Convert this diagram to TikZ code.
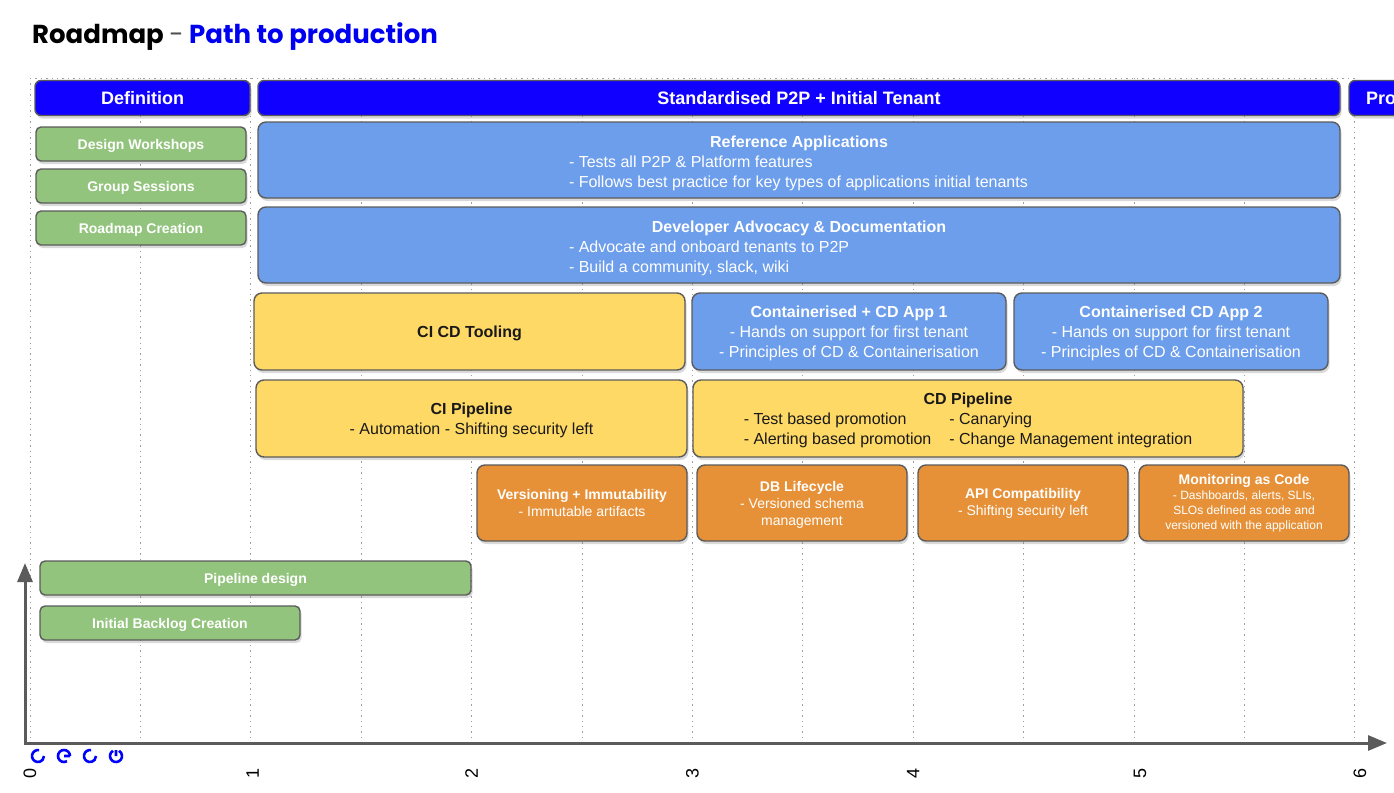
\documentclass[tikz,border=0pt]{standalone}
\usepackage{fontspec}
\setmainfont{Liberation Sans}
\newfontfamily\titlefont{Poppins}
\usetikzlibrary{arrows.meta,shadows}
\definecolor{hdrblue}{HTML}{1000FF}
\definecolor{refblue}{HTML}{6D9EEB}
\definecolor{taskgreen}{HTML}{93C47D}
\definecolor{toolyellow}{HTML}{FFD966}
\definecolor{practorange}{HTML}{E69138}
\definecolor{edgegray}{HTML}{5B5B5B}
\definecolor{titleblue}{HTML}{0000F0}

\begin{document}
\begin{tikzpicture}[x=1pt,y=-1pt,
  bar/.style={rectangle, rounded corners=8pt, draw=edgegray, line width=1.4pt, inner sep=0pt, align=center,
    drop shadow={shadow xshift=1.5pt, shadow yshift=-3pt, opacity=0.3}},
  hdr/.style={bar, fill=hdrblue, text=white, rounded corners=6pt, minimum height=35pt, font=\fontsize{18}{22}\selectfont\bfseries},
  refbox/.style={bar, fill=refblue, text=white, font=\fontsize{16}{20}\selectfont},
  toolbox/.style={bar, fill=toolyellow, text=black!90, font=\fontsize{16}{20}\selectfont},
  practbox/.style={bar, fill=practorange, text=white, minimum width=210pt, minimum height=76pt, font=\fontsize{14}{17}\selectfont},
  taskbox/.style={bar, fill=taskgreen, text=white, rounded corners=5pt, minimum height=34pt, text depth=0pt, font=\fontsize{14}{17}\selectfont\bfseries},
  gridline/.style={gray!75, line width=1pt, dash pattern=on 1.4pt off 4pt},
  timeaxis/.style={edgegray, line width=3pt, line join=miter},
  spin/.style={blue, line width=2.6pt},
  ticklbl/.style={rotate=90, inner sep=0pt, font=\fontsize{18}{18}\selectfont},
]
\useasboundingbox (0,0) rectangle (1394,792);
\clip (0,0) rectangle (1394,792);

% title
\node[anchor=base west, inner sep=0pt, font=\titlefont\fontsize{26}{30}\selectfont\bfseries] (title) at (32,44)
  {Roadmap \textcolor{black!70}{\mdseries -} \textcolor{titleblue}{Path to production}};

% time grid
\foreach \k in {0,...,12}
  \draw[gridline] ({30+110.4*\k},78) -- ({30+110.4*\k},743);
\draw[gridline] (30,78) -- (1355,78);

% phases
\node[hdr, minimum width=215pt] (defn) at (142.5,98) {Definition};
\node[hdr, minimum width=1082pt] (std) at (799,98) {Standardised P2P + Initial Tenant};
\node[hdr, minimum width=101pt, text width=67pt, align=left] (prod) at (1399.5,98) {Pro};

% definition tasks
\node[taskbox, minimum width=210pt] (wshop) at (141,144) {Design Workshops};
\node[taskbox, minimum width=210pt] (groups) at (141,186) {Group Sessions};
\node[taskbox, minimum width=210pt] (rmap) at (141,228) {Roadmap Creation};

% reference work (body lines share one left edge)
\node[refbox, minimum width=1082pt, minimum height=76pt] (refapps) at (799,160)
  {\rule{0pt}{21pt}\textbf{Reference Applications}\\
   \begin{tabular}[t]{@{}p{460pt}@{}}- Tests all P2P \& Platform features\\
   - Follows best practice for key types of applications initial tenants\end{tabular}};
\node[refbox, minimum width=1082pt, minimum height=76pt] (advocacy) at (799,245)
  {\rule{0pt}{21pt}\textbf{Developer Advocacy \& Documentation}\\
   \begin{tabular}[t]{@{}p{460pt}@{}}- Advocate and onboard tenants to P2P\\
   - Build a community, slack, wiki\end{tabular}};

% tooling and tenants
\node[toolbox, minimum width=431pt, minimum height=77pt, text depth=0pt] (tooling) at (469.5,331.5) {\textbf{CI CD Tooling}};
\node[refbox, minimum width=314pt, minimum height=77pt] (appone) at (849,331.5)
  {\rule{0pt}{15.5pt}\textbf{Containerised + CD App 1}\\- Hands on support for first tenant\\- Principles of CD \& Containerisation};
\node[refbox, minimum width=314pt, minimum height=77pt] (apptwo) at (1171,331.5)
  {\rule{0pt}{15.5pt}\textbf{Containerised CD App 2}\\- Hands on support for first tenant\\- Principles of CD \& Containerisation};

% pipelines
\node[toolbox, minimum width=431pt, minimum height=77pt] (cipipe) at (471.5,418.5)
  {\rule{0pt}{15.5pt}\textbf{CI Pipeline}\\- Automation - Shifting security left};
\node[toolbox, minimum width=550pt, minimum height=77pt] (cdpipe) at (968,418.5)
  {\rule{0pt}{17.5pt}\textbf{CD Pipeline}\\
   \begin{tabular}[t]{@{}l@{\hspace{18pt}}l@{}}- Test based promotion & - Canarying\\
   - Alerting based promotion & - Change Management integration\end{tabular}};

% practices
\node[practbox] (versions) at (582,503) {\textbf{Versioning + Immutability}\\- Immutable artifacts};
\node[practbox] (dblife) at (802,503) {\rule{0pt}{13.5pt}\textbf{DB Lifecycle}\\- Versioned schema\\management};
\node[practbox] (apicompat) at (1023,503) {\textbf{API Compatibility}\\- Shifting security left};
\node[practbox, font=\fontsize{12}{15}\selectfont] (monitor) at (1244,503)
  {{\fontsize{14}{17}\selectfont\bfseries Monitoring as Code}\\- Dashboards, alerts, SLIs,\\SLOs defined as code and\\versioned with the application};

% early tasks
\node[taskbox, minimum width=431pt] (pipedesign) at (255.5,578) {Pipeline design};
\node[taskbox, minimum width=260pt] (backlog) at (170,623) {Initial Backlog Creation};

% axes
\coordinate (orig) at (25,743);
\coordinate (ytop) at (25,563);
\coordinate (xend) at (1387,743);
\draw[timeaxis, {Triangle[length=19pt,width=15pt]}-{Triangle[length=19pt,width=15pt]}] (ytop) -- (orig) -- (xend);
\foreach \k/\xo in {0/0,1/2,2/0,3/0,4/0,5/6,6/5}
  \node[ticklbl] (tick\k) at ({30+220.8*\k+\xo},773) {\k};

% spinners
\draw[spin] (38,756) ++(-80:6) arc[start angle=-80, end angle=-360, radius=6];
\draw[spin] (64,756) ++(0:6) arc[start angle=0, end angle=-300, radius=6] (64,756) -- ++(6,0);
\draw[spin] (90,756) ++(-80:6) arc[start angle=-80, end angle=-360, radius=6];
\draw[spin] (116,756) ++(-120:6) arc[start angle=-120, end angle=-420, radius=6] (116,756) -- ++(0,-6);
\end{tikzpicture}
\end{document}
